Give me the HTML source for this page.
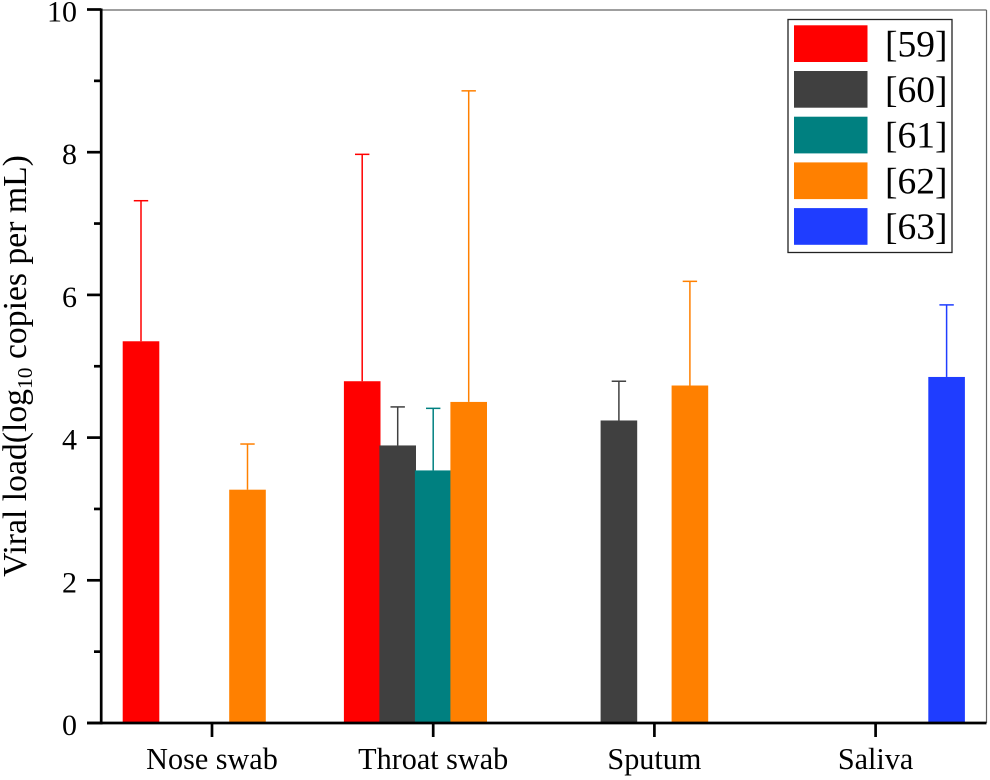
<!DOCTYPE html>
<html>
<head>
<meta charset="utf-8">
<style>
html,body{margin:0;padding:0;background:#fff;}
svg{display:block;}
text{font-family:"Liberation Serif",serif;fill:#000;}
</style>
</head>
<body>
<svg id="chart" width="990" height="780" viewBox="0 0 990 780" xmlns="http://www.w3.org/2000/svg"></svg>
<script>
const categories = ['Nose swab', 'Throat swab', 'Sputum', 'Saliva'];
const seriesNames = ['[59]', '[60]', '[61]', '[62]', '[63]'];
const seriesColors = ['#ff0000', '#404040', '#008080', '#ff8000', '#1f3dff'];
const means59 = [5.35, 4.79, null, null];
const means60 = [null, 3.89, 4.24, null];
const means61 = [null, 3.54, null, null];
const means62 = [3.27, 4.50, 4.73, null];
const means63 = [null, null, null, 4.85];
const upper59 = [7.32, 7.97, null, null];
const upper60 = [null, 4.43, 4.79, null];
const upper61 = [null, 4.41, null, null];
const upper62 = [3.91, 8.86, 6.19, null];
const upper63 = [null, null, null, 5.86];
const yMajorTicks = [0, 2, 4, 6, 8, 10];
const yMinorTicks = [1, 3, 5, 7, 9];
const yAxisMax = 10;

const allMeans = [means59, means60, means61, means62, means63];
const allUpper = [upper59, upper60, upper61, upper62, upper63];
const svg = document.getElementById('chart');
const NS = 'http://www.w3.org/2000/svg';

const plotLeft = 101.2, plotRight = 986.5, plotTop = 9.5, plotBottom = 723;
const firstCenter = 212, groupStep = 221.2, slotWidth = 35.5, barWidth = 36.6;

function yScale(v) { return plotBottom - (v / yAxisMax) * (plotBottom - plotTop); }
function xCenter(c) { return firstCenter + c * groupStep; }
function xBar(c, s) { return xCenter(c) + (s - (seriesNames.length - 1) / 2) * slotWidth; }

function make(tag, attrs, parent) {
  const el = document.createElementNS(NS, tag);
  for (const k in attrs) el.setAttribute(k, attrs[k]);
  (parent || svg).appendChild(el);
  return el;
}

// Frame (top and right thin lines)
const frameTop = make('line', {x1: plotLeft, y1: 10, x2: plotRight, y2: 10, stroke: '#666', 'stroke-width': 1.2});


const frameRight = make('line', {x1: plotRight, y1: 10, x2: plotRight, y2: plotBottom, stroke: '#666', 'stroke-width': 1.2});



// Bars and error bars
allMeans.forEach(function (values, s) {
  values.forEach(function (v, c) {
    if (v === null) return;
    const cx = xBar(c, s);
    const top = allUpper[s][c];
    const stem = make('line', {x1: cx, y1: yScale(v), x2: cx, y2: yScale(top), stroke: seriesColors[s], 'stroke-width': 1.5});
    
    
    const cap = make('line', {x1: cx - 7.2, y1: yScale(top), x2: cx + 7.2, y2: yScale(top), stroke: seriesColors[s], 'stroke-width': 1.5});
    
    
    const bar = make('rect', {x: cx - barWidth / 2, y: yScale(v), width: barWidth, height: plotBottom - yScale(v), fill: seriesColors[s]});
    
    
  });
});

// Axes
const yAxis = make('line', {x1: plotLeft, y1: plotTop - 1, x2: plotLeft, y2: plotBottom + 1.5, stroke: '#000', 'stroke-width': 2.7});


const xAxis = make('line', {x1: 87, y1: plotBottom, x2: plotRight, y2: plotBottom, stroke: '#000', 'stroke-width': 2.7});



yMajorTicks.forEach(function (v) {
  const y = yScale(v);
  const tick = make('line', {x1: 87, y1: y, x2: plotLeft, y2: y, stroke: '#000', 'stroke-width': 2.7});
  
  
  const label = make('text', {x: 77, y: y + 12, 'text-anchor': 'end', 'font-size': 30});
  label.textContent = v;
  
  
});
yMinorTicks.forEach(function (v) {
  const y = yScale(v);
  const tick = make('line', {x1: 94, y1: y, x2: plotLeft, y2: y, stroke: '#000', 'stroke-width': 2.7});
  
  
});
categories.forEach(function (name, c) {
  const x = xCenter(c);
  const tick = make('line', {x1: x, y1: plotBottom, x2: x, y2: 737, stroke: '#000', 'stroke-width': 2.7});
  
  
  const label = make('text', {x: x, y: 769, 'text-anchor': 'middle', 'font-size': 30.2});
  label.textContent = name;
  
  
});

// Y axis title
const yTitle = make('text', {transform: 'translate(26 366) rotate(-90)', 'text-anchor': 'middle', 'font-size': 33.7});


yTitle.appendChild(document.createTextNode('Viral load(log'));
const sub = make('tspan', {'font-size': 21.5, dy: 6}, yTitle);
sub.textContent = '10';
const rest = make('tspan', {dy: -6}, yTitle);
rest.textContent = ' copies per mL)';

// Legend
const legendBox = make('rect', {x: 788, y: 19.5, width: 164, height: 233, fill: '#fff', stroke: '#222', 'stroke-width': 1.3});


seriesNames.forEach(function (name, s) {
  const rowTop = 25.3 + s * 45.7;
  const swatch = make('rect', {x: 794, y: rowTop, width: 73.5, height: 36.7, fill: seriesColors[s]});
  
  
  const label = make('text', {x: 885, y: rowTop + 31, 'font-size': 37.5});
  label.textContent = name;
  
  
});
</script>
</body>
</html>
